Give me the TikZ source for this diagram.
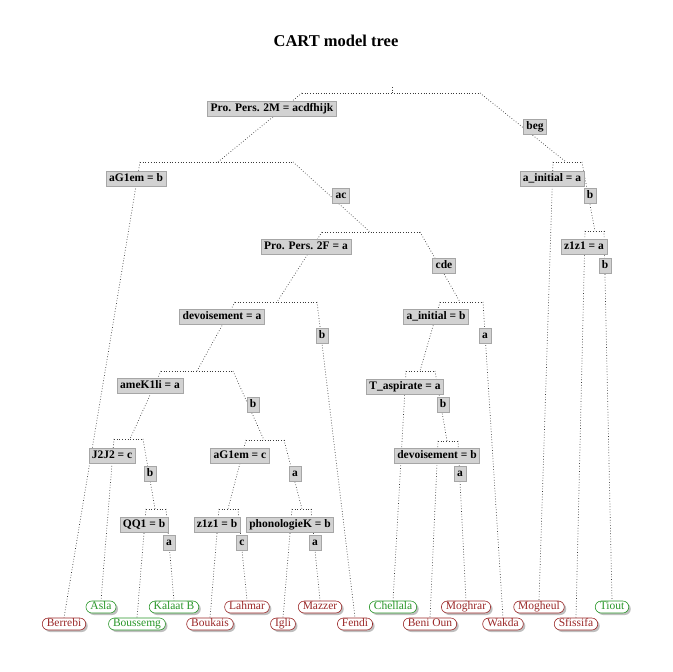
\documentclass[tikz,border=0pt]{standalone}
\usepackage{fontspec}
\setmainfont{Liberation Serif}
\usetikzlibrary{backgrounds,shadows}
\definecolor{leafred}{RGB}{155,40,40}
\definecolor{leafgreen}{RGB}{40,150,40}

\begin{document}
\begin{tikzpicture}[x=1pt,y=-1pt,
    split/.style={draw=gray!70, fill=gray!35, line width=0.5pt, font=\bfseries\fontsize{11.5}{13}\selectfont,
      inner xsep=3pt, inner ysep=2.4pt, text height=7.8pt, text depth=2.4pt},
    leaf/.style={draw=#1, text=#1, fill=white, rounded corners=6pt, line width=0.6pt,
      font=\fontsize{11.5}{13}\selectfont, inner xsep=4.5pt, inner ysep=1.1pt,
      text height=7.6pt, text depth=2.2pt,
      drop shadow={shadow xshift=2pt, shadow yshift=-2pt, fill=black, opacity=0.25}},
    branch/.style={dotted, line width=0.7pt, gray!45!black}]
\useasboundingbox (0,0) rectangle (672,672);
\node[font=\bfseries\fontsize{16.5}{20}\selectfont] (title) at (336,40.5) {CART model tree};

% split points
\coordinate (r) at (392,87);
\coordinate (r0) at (392,93); \coordinate (rl) at (302,93); \coordinate (rr) at (480,93);
\coordinate (n1) at (218,162); \coordinate (n1l) at (140,162); \coordinate (n1r) at (293,162);
\coordinate (n2) at (370,232); \coordinate (n2l) at (322,232); \coordinate (n2r) at (420,232);
\coordinate (n3) at (277,302); \coordinate (n3l) at (235,302); \coordinate (n3r) at (317,302);
\coordinate (n4) at (197,371); \coordinate (n4l) at (161,371); \coordinate (n4r) at (233,371);
\coordinate (n5) at (130,439); \coordinate (n5l) at (114,439); \coordinate (n5r) at (143,439);
\coordinate (n7) at (155,509); \coordinate (n7l) at (146,509); \coordinate (n7r) at (166,509);
\coordinate (n8) at (264,440); \coordinate (n8l) at (246,440); \coordinate (n8r) at (284,440);
\coordinate (n9) at (228,509); \coordinate (n9l) at (219,509); \coordinate (n9r) at (238,509);
\coordinate (n10) at (302,509); \coordinate (n10l) at (292,509); \coordinate (n10r) at (311,509);
\coordinate (n11) at (460,302); \coordinate (n11l) at (440,302); \coordinate (n11r) at (483,302);
\coordinate (n12) at (420,371); \coordinate (n12l) at (406,371); \coordinate (n12r) at (435,371);
\coordinate (n13) at (447,441); \coordinate (n13l) at (438,441); \coordinate (n13r) at (458,441);
\coordinate (n14) at (566,162); \coordinate (n14l) at (553,162); \coordinate (n14r) at (582,162);
\coordinate (n15) at (595,231); \coordinate (n15l) at (585,231); \coordinate (n15r) at (604,231);

% split labels
\node[split] (s1) at (272,109) {Pro. Pers. 2M = acdfhijk};
\node[split] (s2) at (535,126.5) {beg};
\node[split] (s3) at (136,179) {aG1em = b};
\node[split] (s4) at (341,196) {ac};
\node[split] (s5) at (306,247) {Pro. Pers. 2F = a};
\node[split] (s6) at (444,266) {cde};
\node[split] (s7) at (222,317) {devoisement = a};
\node[split] (s8) at (322,336) {b};
\node[split] (s9) at (436,317) {a\_initial = b};
\node[split] (s10) at (485,336) {a};
\node[split] (s11) at (150,386) {ameK1li = a};
\node[split] (s12) at (253,405) {b};
\node[split] (s13) at (405,387) {T\_aspirate = a};
\node[split] (s14) at (443,405) {b};
\node[split] (s15) at (112,456) {J2J2 = c};
\node[split] (s16) at (150,474) {b};
\node[split] (s17) at (240,456) {aG1em = c};
\node[split] (s18) at (295,474) {a};
\node[split] (s19) at (437,456) {devoisement = b};
\node[split] (s20) at (460,474) {a};
\node[split] (s21) at (144,525) {QQ1 = b};
\node[split] (s22) at (169,543) {a};
\node[split] (s23) at (217,525) {z1z1 = b};
\node[split] (s24) at (242,543) {c};
\node[split] (s25) at (290,525) {phonologieK = b};
\node[split] (s26) at (315,543) {a};
\node[split] (s27) at (552,179) {a\_initial = a};
\node[split] (s28) at (590,196) {b};
\node[split] (s29) at (584,247) {z1z1 = a};
\node[split] (s30) at (605,266) {b};

% leaves
\node[leaf=leafred] (berrebi) at (64,624) {Berrebi};
\node[leaf=leafgreen] (asla) at (101,607) {Asla};
\node[leaf=leafgreen] (boussemg) at (137,624) {Boussemg};
\node[leaf=leafgreen] (kalaat) at (174,607) {Kalaat B};
\node[leaf=leafred] (boukais) at (210,624) {Boukais};
\node[leaf=leafred] (lahmar) at (247,607) {Lahmar};
\node[leaf=leafred] (igli) at (283,624) {Igli};
\node[leaf=leafred] (mazzer) at (320,607) {Mazzer};
\node[leaf=leafred] (fendi) at (355,624) {Fendi};
\node[leaf=leafgreen] (chellala) at (393,607) {Chellala};
\node[leaf=leafred] (benioun) at (430,624) {Beni Oun};
\node[leaf=leafred] (moghrar) at (466,607) {Moghrar};
\node[leaf=leafred] (wakda) at (503,624) {Wakda};
\node[leaf=leafred] (mogheul) at (539,607) {Mogheul};
\node[leaf=leafred] (sfissifa) at (576,624) {Sfissifa};
\node[leaf=leafgreen] (tiout) at (612,607) {Tiout};

\begin{scope}[on background layer]
% bars
\draw[branch] (r) -- (r0) (rl) -- (rr) (n1l) -- (n1r) (n2l) -- (n2r) (n3l) -- (n3r)
  (n4l) -- (n4r) (n5l) -- (n5r) (n7l) -- (n7r) (n8l) -- (n8r) (n9l) -- (n9r)
  (n10l) -- (n10r) (n11l) -- (n11r) (n12l) -- (n12r) (n13l) -- (n13r)
  (n14l) -- (n14r) (n15l) -- (n15r);
% branches
\draw[branch] (rl) -- (n1) (rr) -- (n14) (n1l) -- (berrebi.north) (n1r) -- (n2)
  (n2l) -- (n3) (n2r) -- (n11) (n3l) -- (n4) (n3r) -- (fendi.north)
  (n4l) -- (n5) (n4r) -- (n8) (n5l) -- (asla.north) (n5r) -- (n7)
  (n7l) -- (boussemg.north) (n7r) -- (kalaat.north) (n8l) -- (n9) (n8r) -- (n10)
  (n9l) -- (boukais.north) (n9r) -- (lahmar.north) (n10l) -- (igli.north) (n10r) -- (mazzer.north)
  (n11l) -- (n12) (n11r) -- (wakda.north) (n12l) -- (chellala.north) (n12r) -- (n13)
  (n13l) -- (benioun.north) (n13r) -- (moghrar.north)
  (n14l) -- (mogheul.north) (n14r) -- (n15) (n15l) -- (sfissifa.north) (n15r) -- (tiout.north);
\end{scope}
\end{tikzpicture}
\end{document}
